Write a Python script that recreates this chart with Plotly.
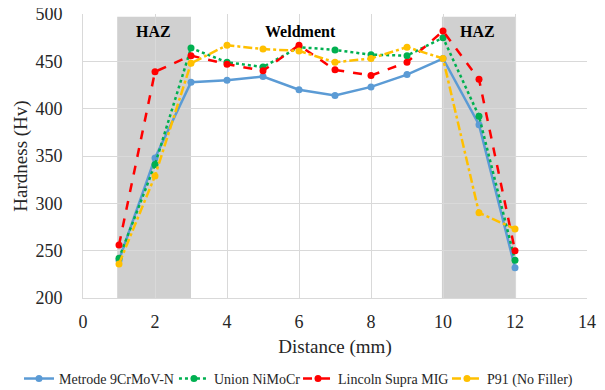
import plotly.graph_objects as go

distance = [1, 2, 3, 4, 5, 6, 7, 8, 9, 10, 11, 12]
metrode = [240, 348, 428, 430, 434, 420, 414, 423, 436, 453, 383, 232]
union = [242, 341, 464, 449, 444, 465, 462, 457, 456, 475, 392, 240]
lincoln = [256, 439, 456, 447, 440, 467, 441, 435, 449, 482, 431, 250]
p91 = [236, 329, 448, 467, 463, 461, 449, 453, 465, 453, 290, 273]

series = [
    ("Metrode 9CrMoV-N", metrode, "#5B9BD5", "solid"),
    ("Union NiMoCr", union, "#00B050", "dot"),
    ("Lincoln Supra MIG", lincoln, "#FF0000", "dash"),
    ("P91 (No Filler)", p91, "#FFC000", "dashdot"),
]

haz_regions = [(0.95, 3.0), (9.97, 12.03)]
zone_labels = [("HAZ", 1.95), ("Weldment", 6.05), ("HAZ", 10.95)]

SERIF = "Liberation Serif"

# one single-item legend per series so the row sits like the reference's
legend_ids = ["legend", "legend2", "legend3", "legend4"]
legend_x = [0.0184, 0.278, 0.4858, 0.7353]

fig = go.Figure()
for x0, x1 in haz_regions:
    fig.add_shape(type="rect", xref="x", yref="y", x0=x0, x1=x1, y0=200, y1=497,
                  fillcolor="#D0D0D0", line=dict(width=0), layer="below")

for (name, vals, color, dash), lid in zip(series, legend_ids):
    fig.add_trace(go.Scatter(
        x=distance, y=vals, name=name, mode="lines+markers",
        line=dict(color=color, width=2.5, dash=dash),
        marker=dict(color=color, size=7, symbol="circle"),
        legend=lid,
    ))

for text, xv in zone_labels:
    fig.add_annotation(x=xv, y=481, xref="x", yref="y", text=f"<b>{text}</b>",
                       showarrow=False, font=dict(family=SERIF, size=16, color="black"))

tickfont = dict(family=SERIF, size=18, color="#262626")
titlefont = dict(family=SERIF, size=19, color="#262626")
legfont = dict(family=SERIF, size=14, color="#262626")

legend_layout = {}
for lid, lx in zip(legend_ids, legend_x):
    legend_layout[lid] = dict(orientation="h", xref="container", yref="container",
                              x=lx, y=0.029, xanchor="left", yanchor="middle",
                              font=legfont, itemwidth=30, bgcolor="rgba(0,0,0,0)")

fig.update_layout(
    width=597, height=382,
    margin=dict(l=75, r=18, t=6, b=92),
    plot_bgcolor="white", paper_bgcolor="white",
    font=tickfont,
    showlegend=True,
    xaxis=dict(range=[0, 14], dtick=2, showgrid=True, gridcolor="#D9D9D9", gridwidth=1,
               zeroline=False, showline=True, linecolor="#D9D9D9", mirror=False,
               ticks="", tickfont=tickfont, automargin=False, ticklabeloverflow="allow",
               ticklabelstandoff=7,
               title=dict(text="Distance (mm)", font=titlefont, standoff=9)),
    yaxis=dict(range=[200, 500], dtick=50, showgrid=True, gridcolor="#D9D9D9", gridwidth=1,
               zeroline=False, showline=True, linecolor="#D9D9D9",
               ticks="", tickfont=tickfont, automargin=False, ticklabeloverflow="allow",
               ticklabelstandoff=16,
               title=dict(text="Hardness (Hv)", font=titlefont, standoff=2)),
    **legend_layout,
)

fig.write_html("out.html")
